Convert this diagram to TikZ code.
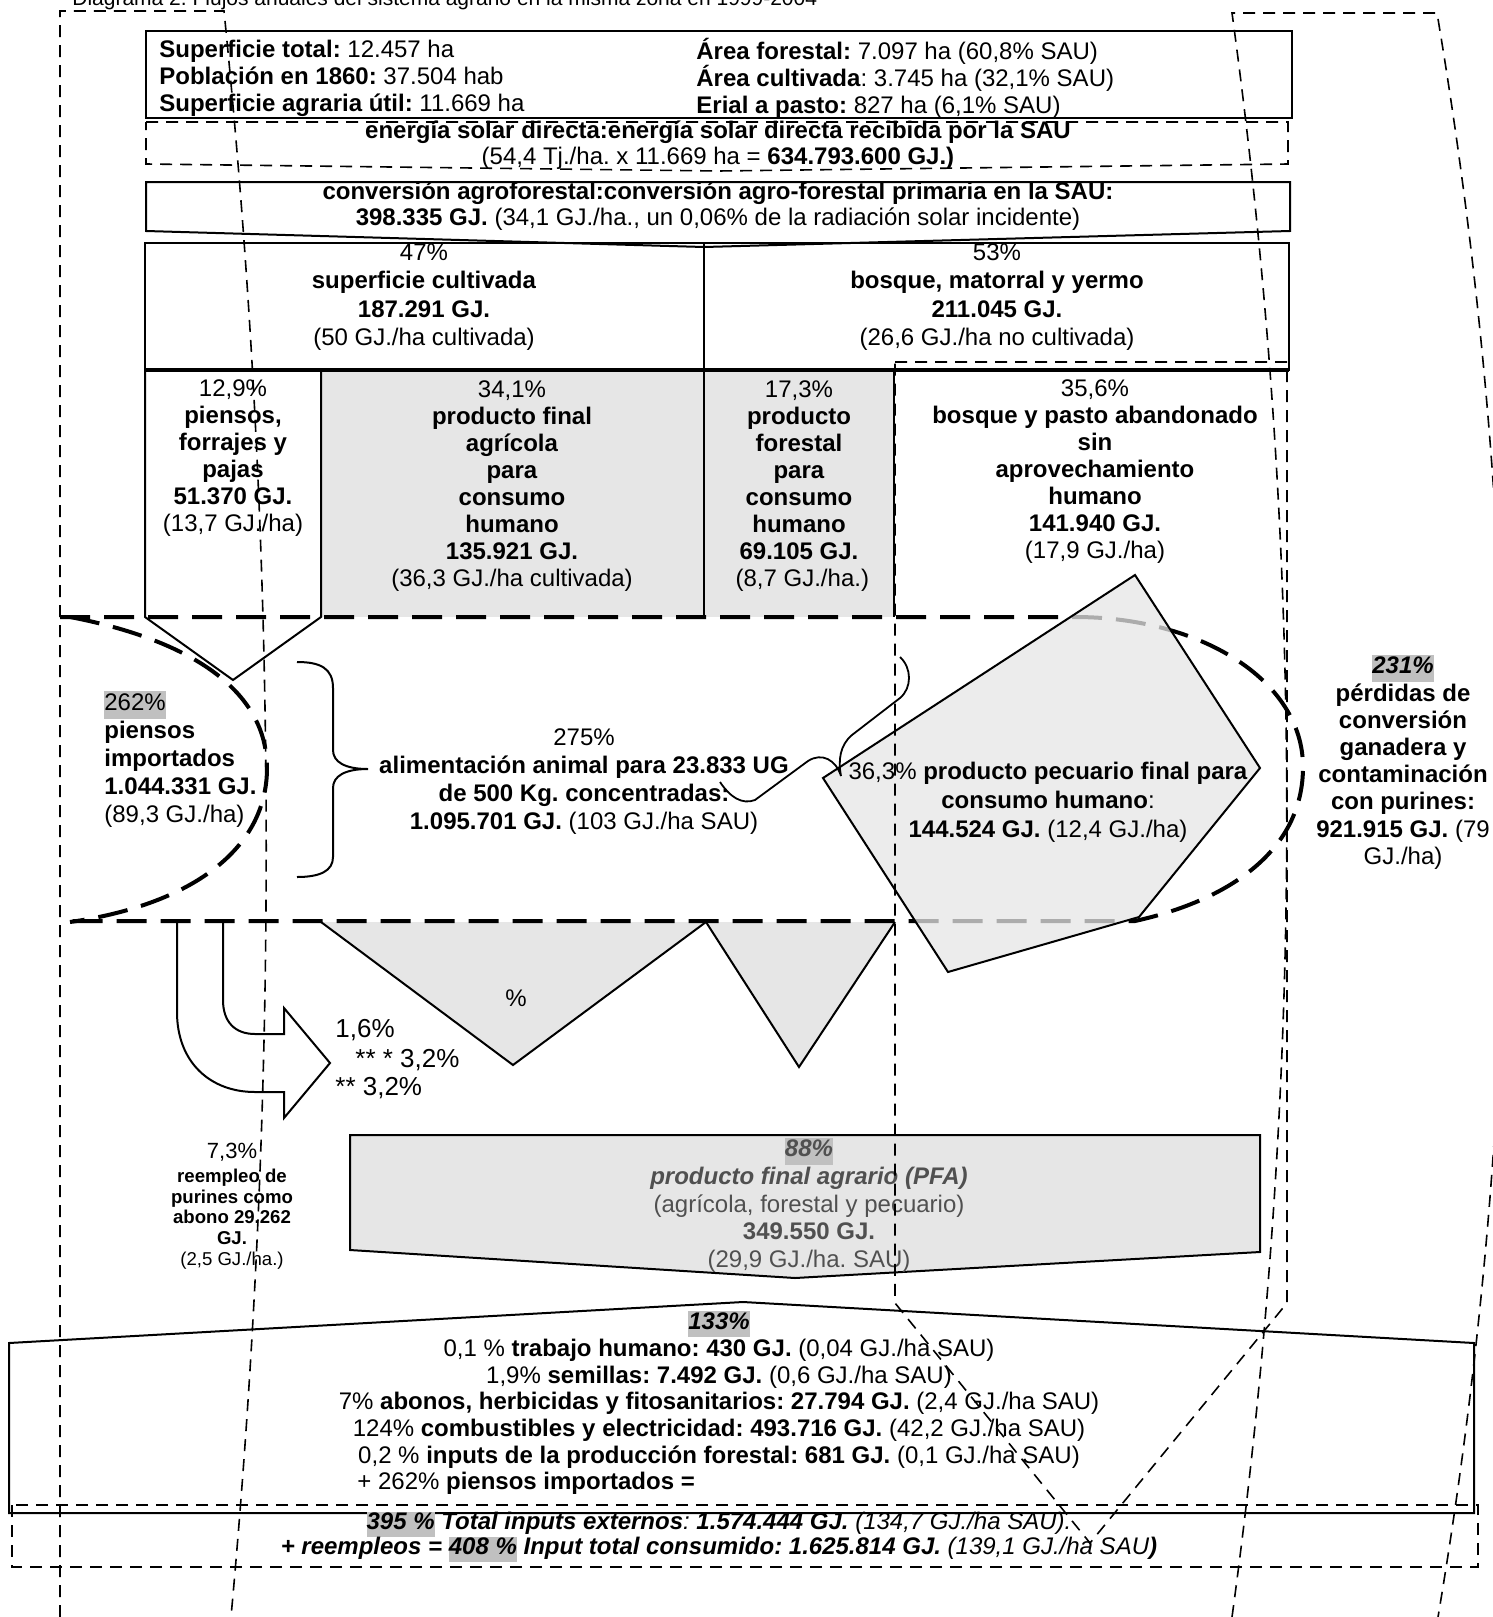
\documentclass[tikz,border=0pt]{standalone}
\usepackage{fontspec}
\setmainfont{Liberation Sans}
\definecolor{hl}{HTML}{C0C0C0}
\definecolor{pat}{HTML}{E6E6E6}
\definecolor{pfatext}{HTML}{505050}
\newcommand{\hlbox}[1]{{\setlength{\fboxsep}{0pt}\colorbox{hl}{\strut #1}}}
\tikzset{
  solidline/.style={draw=black, line width=1pt},
  rowline/.style={draw=black, line width=1.6pt},
  thindash/.style={draw=black, line width=0.8pt, dash pattern=on 6pt off 4pt},
  thickdash/.style={draw=black, line width=2pt, dash pattern=on 15pt off 7pt},
  txt/.style={inner sep=0pt, align=center},
  ltxt/.style={inner sep=0pt, align=left},
}
\begin{document}
\frenchspacing
\begin{tikzpicture}[x=0.5pt,y=-0.5pt,font=\frenchspacing\fontsize{12}{13.5}\selectfont]
\useasboundingbox (0,0) rectangle (1493,1617);
\fill[white] (0,0) rectangle (1493,1617);

% title (cut at top)
\node[anchor=base west, inner sep=0pt, font=\fontsize{10.5}{12}\selectfont] (title) at (72,5)
  {Diagrama 2. Flujos anuales del sistema agrario en la misma zona en 1999-2004};

% info box
\draw[solidline] (146,31) rectangle (1292,118);
\node[ltxt, anchor=west] (infoL) at (159,78)
  {\textbf{Superficie total:} 12.457 ha\\\textbf{Población en 1860:} 37.504 hab\\\textbf{Superficie agraria útil:} 11.669 ha};
\node[ltxt, anchor=west] (infoR) at (696,78)
  {\textbf{Área forestal:} 7.097 ha (60,8\% SAU)\\\textbf{Área cultivada}: 3.745 ha (32,1\% SAU)\\\textbf{Erial a pasto:} 827 ha (6,1\% SAU)};

% solar box
\draw[thindash] (146,122) -- (1288,122) -- (1288,164) -- (718,171) -- (146,164) -- cycle;
\node[txt, font=\fontsize{12}{13}\selectfont] (solar) at (718,145)
  {\textbf{energía solar directa:energía solar directa recibida por la SAU}\\(54,4 Tj./ha. x 11.669 ha = \textbf{634.793.600 GJ.)}};

% conversion box
\draw[solidline] (146,182) -- (1290,182) -- (1290,231) -- (704,247) -- (146,231) -- cycle;
\node[txt, font=\fontsize{12}{13}\selectfont] (conv) at (718,206)
  {\textbf{conversión agroforestal:conversión agro-forestal primaria en la SAU:}\\\textbf{398.335 GJ.} (34,1 GJ./ha., un 0,06\% de la radiación solar incidente)};

% 47 / 53 box
\draw[solidline] (145,243) rectangle (1289,370);
\draw[solidline] (704,243) -- (704,370);
\node[txt, font=\fontsize{12}{14.2}\selectfont] (cult) at (424,297)
  {47\%\\\textbf{superficie cultivada}\\\textbf{187.291 GJ.}\\(50 GJ./ha cultivada)};
\node[txt, font=\fontsize{12}{14.2}\selectfont] (bosq) at (997,297)
  {53\%\\\textbf{bosque, matorral y yermo}\\\textbf{211.045 GJ.}\\(26,6 GJ./ha no cultivada)};

% columns row
\fill[pat] (321,370) rectangle (894,617);
\draw[solidline] (145,370) -- (145,617) -- (233,680) -- (321,617) -- (321,370);
\draw[solidline] (704,370) -- (704,617);
\draw[solidline] (894,370) -- (894,617);
\draw[rowline] (145,370) -- (1289,370);

\node[txt] (c1) at (233,458)
  {12,9\%\\\textbf{piensos,}\\\textbf{forrajes y}\\\textbf{pajas}\\\textbf{51.370 GJ.}\\(13,7 GJ./ha)};
\node[txt] (c2) at (512,486)
  {34,1\%\\\textbf{producto final}\\\textbf{agrícola}\\\textbf{para}\\\textbf{consumo}\\\textbf{humano}\\\textbf{135.921 GJ.}\\(36,3 GJ./ha cultivada)};
\node[txt] (c3) at (799,486)
  {17,3\%\\\textbf{producto}\\\textbf{forestal}\\\textbf{para}\\\textbf{consumo}\\\textbf{humano}\\\textbf{69.105 GJ.}\\\ (8,7 GJ./ha.)};
\node[txt] (c4) at (1095,472)
  {35,6\%\\\textbf{bosque y pasto abandonado}\\\textbf{sin}\\\textbf{aprovechamiento}\\\textbf{humano}\\\textbf{141.940 GJ.}\\(17,9 GJ./ha)};

% triangles below band
\fill[pat] (321,922) -- (513,1065) -- (706,922) -- cycle;
\draw[solidline] (321,922) -- (513,1065) -- (706,922);
\fill[pat] (706,922) -- (799,1067) -- (895,922) -- cycle;
\draw[solidline] (706,922) -- (799,1067) -- (895,922);
\node[txt] (pct) at (516,998) {\%};

% middle band (thick dashed)
\draw[thickdash] (60,617) -- (1075,617) .. controls (1200,617) and (1303,680) .. (1303,767)
  .. controls (1303,850) and (1230,900) .. (1135,921) -- (60,921);
\draw[thickdash] (70,617) .. controls (190,640) and (267,690) .. (267,768)
  .. controls (267,850) and (190,905) .. (70,922);

% pentagon (pecuario)
\fill[pat, fill opacity=0.75] (1135,575) -- (1260,768) -- (1139,917) -- (948,972) -- (823,778) -- cycle;
\draw[solidline] (1135,575) -- (1260,768) -- (1139,917) -- (948,972) -- (823,778) -- cycle;

% brace
\draw[solidline] (297,662) .. controls (320,662) and (333,668) .. (333,688) -- (333,750)
  .. controls (333,762) and (345,769) .. (368,769) .. controls (345,769) and (333,776) .. (333,788)
  -- (333,857) .. controls (333,871) and (320,877) .. (297,877);

\node[ltxt, anchor=west, font=\fontsize{12}{14}\selectfont] (imp) at (104,759)
  {\hlbox{262\%}\\\textbf{piensos}\\\textbf{importados}\\\textbf{1.044.331 GJ.}\\(89,3 GJ./ha)};
\node[txt, font=\fontsize{12}{14}\selectfont] (alim) at (584,782)
  {275\%\\\textbf{alimentación animal para 23.833 UG}\\\textbf{de 500 Kg. concentradas:}\\\textbf{1.095.701 GJ.} (103 GJ./ha SAU)};
\node[txt, font=\fontsize{12}{13.6}\selectfont] (perd) at (1403,762)
  {\hlbox{\textbf{\textit{231\%}}}\\\textbf{pérdidas de}\\\textbf{conversión}\\\textbf{ganadera y}\\\textbf{contaminación}\\\textbf{con purines:}\\\textbf{921.915 GJ.} (79\\GJ./ha)};
\node[txt, font=\fontsize{12}{14.5}\selectfont] (pec) at (1048,802)
  {36,3\% \textbf{producto pecuario final para}\\\textbf{consumo humano}:\\\textbf{144.524 GJ.} (12,4 GJ./ha)};

% squiggle connector from alimentacion to pecuario
\coordinate (sqa) at (720,782);
\coordinate (sqb) at (900,657);
\draw[line width=0.9pt] (sqa) .. controls (730,797) and (742,805) .. (755,800) -- (808,761)
  .. controls (822,752) and (836,760) .. (841,776) .. controls (838,760) and (840,745) .. (852,735)
  -- (900,698) .. controls (912,688) and (912,668) .. (sqb);

% U-turn block arrow
\draw[solidline] (177,922) -- (177,1012) .. controls (177,1062) and (210,1092) .. (255,1092)
  -- (284,1092) -- (284,1118) -- (330,1063) -- (284,1008) -- (284,1034) -- (255,1034)
  .. controls (235,1034) and (223,1022) .. (223,1000) -- (223,922);
\node[anchor=west, inner sep=0pt, font=\fontsize{13}{15}\selectfont] (p16) at (335,1030) {1,6\%};
\node[anchor=west, inner sep=0pt, font=\fontsize{13}{15}\selectfont] (p32a) at (355,1060) {** * 3,2\%};
\node[anchor=west, inner sep=0pt, font=\fontsize{13}{15}\selectfont] (p32b) at (335,1088) {** 3,2\%};

\node[txt, font=\fontsize{11}{12}\selectfont] (r73) at (232,1152) {7,3\%};
\node[txt, font=\fontsize{9.3}{10.3}\selectfont] (reemp) at (232,1219)
  {\textbf{reempleo de}\\\textbf{purines como}\\\textbf{abono 29.262}\\\textbf{GJ.}\\(2,5 GJ./ha.)};

% PFA
\draw[solidline, fill=pat] (350,1135) -- (1260,1135) -- (1260,1252) -- (795,1278) -- (350,1250) -- cycle;
\node[txt, text=pfatext, font=\fontsize{12}{13.8}\selectfont] (pfa) at (809,1205)
  {\hlbox{\textbf{\textit{88\%}}}\\\textbf{\textit{producto final agrario (PFA)}}\\(agrícola, forestal y pecuario)\\\textbf{349.550 GJ.}\\(29,9 GJ./ha. SAU)};

% inputs box
\draw[solidline] (9,1343) -- (743,1302) -- (1474,1343) -- (1474,1513) -- (9,1513) -- cycle;
\node[txt, font=\fontsize{12}{13.4}\selectfont] (inp) at (719,1389.5)
  {\hlbox{\textbf{\textit{133\%}}}\\0,1 \% \textbf{trabajo humano: 430 GJ.} (0,04 GJ./ha SAU)\\1,9\% \textbf{semillas: 7.492 GJ.} (0,6 GJ./ha SAU)\\7\% \textbf{abonos, herbicidas y fitosanitarios: 27.794 GJ.} (2,4 GJ./ha SAU)\\124\% \textbf{combustibles y electricidad: 493.716 GJ.} (42,2 GJ./ha SAU)\\0,2 \% \textbf{inputs de la producción forestal: 681 GJ.} (0,1 GJ./ha SAU)};
\node[anchor=west, inner sep=0pt] (inp2) at (357,1483) {+ 262\% \textbf{piensos importados =}};

% totals dashed box
\draw[thindash] (12,1505) rectangle (1478,1567);
\node[txt, font=\fontsize{12}{12.5}\selectfont] (tot) at (719,1536.5)
  {\hlbox{\textbf{\textit{395 \%}}} \textbf{\textit{Total inputs externos}}\textit{: }\textbf{\textit{1.574.444 GJ.}} \textit{(134,7 GJ./ha SAU).}\\\textbf{\textit{+ reempleos = }}\hlbox{\textbf{\textit{408 \%}}}\textbf{\textit{ Input total consumido: 1.625.814 GJ.}} \textit{(139,1 GJ./ha SAU}\textbf{\textit{)}}};

% thin dashed overlay shapes
\draw[thindash] (60,1617) -- (60,11) -- (224,11) .. controls (278,546) and (280,1082) .. (231,1617);
\draw[thindash] (1232,1617) .. controls (1305,1082) and (1305,548) .. (1232,13) -- (1437,13)
  .. controls (1527,548) and (1528,1082) .. (1438,1617);
\draw[thindash] (895,362) -- (1287,362) -- (1287,1303) -- (1090,1543) -- (895,1303) -- cycle;
\end{tikzpicture}
\end{document}
